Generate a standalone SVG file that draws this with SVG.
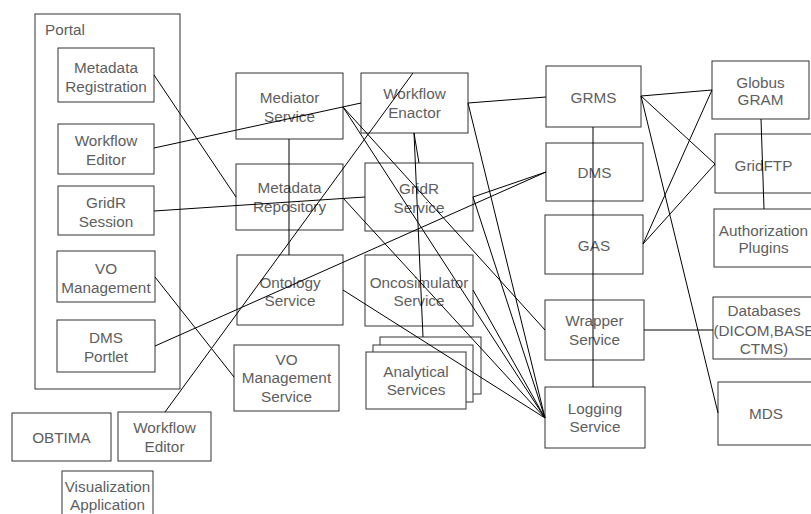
<svg xmlns="http://www.w3.org/2000/svg" width="811" height="514" viewBox="0 0 811 514">
<style>
rect{fill:#fff;stroke:#333;stroke-width:1}
text{font-family:"Liberation Sans",Arial,sans-serif;font-size:15.3px;fill:#5e5e5e;text-anchor:middle}
#portal text{text-anchor:start}
#connectors line{stroke:#000;stroke-width:1}
</style>
<rect x="0" y="0" width="811" height="514" style="stroke:none"/>
<g id="portal"><rect x="35" y="14" width="145" height="375"/><text x="45" y="35">Portal</text></g>
<g id="metadata-registration"><rect x="58" y="48" width="96" height="54"/><text x="106" y="73">Metadata</text><text x="106" y="92">Registration</text></g>
<g id="workflow-editor-portal"><rect x="58" y="124" width="96" height="50"/><text x="106" y="146">Workflow</text><text x="106" y="165">Editor</text></g>
<g id="gridr-session"><rect x="58" y="186" width="96" height="49"/><text x="106" y="208">GridR</text><text x="106" y="227">Session</text></g>
<g id="vo-management"><rect x="57" y="251" width="98" height="51"/><text x="106" y="274">VO</text><text x="106" y="293">Management</text></g>
<g id="dms-portlet"><rect x="57" y="320" width="98" height="52"/><text x="106" y="343">DMS</text><text x="106" y="362">Portlet</text></g>
<g id="obtima"><rect x="12" y="413" width="99" height="48"/><text x="61.5" y="443">OBTIMA</text></g>
<g id="workflow-editor"><rect x="118" y="412" width="93" height="49"/><text x="164.5" y="433">Workflow</text><text x="164.5" y="452">Editor</text></g>
<g id="visualization-application"><rect x="62" y="471" width="91" height="60"/><text x="107.5" y="492">Visualization</text><text x="107.5" y="510">Application</text></g>
<g id="mediator-service"><rect x="236" y="73" width="107" height="66"/><text x="289.5" y="103">Mediator</text><text x="289.5" y="122">Service</text></g>
<g id="workflow-enactor"><rect x="361" y="73" width="107" height="60"/><text x="414.5" y="99">Workflow</text><text x="414.5" y="118">Enactor</text></g>
<g id="metadata-repository"><rect x="236" y="164" width="107" height="66"/><text x="289.5" y="193">Metadata</text><text x="289.5" y="212">Repository</text></g>
<g id="gridr-service"><rect x="365" y="163" width="108" height="68"/><text x="419" y="194">GridR</text><text x="419" y="213">Service</text></g>
<g id="ontology-service"><rect x="237" y="255" width="106" height="70"/><text x="290" y="288">Ontology</text><text x="290" y="306">Service</text></g>
<g id="oncosimulator-service"><rect x="365" y="255" width="108" height="71"/><text x="419" y="288">Oncosimulator</text><text x="419" y="306">Service</text></g>
<g id="vo-management-service"><rect x="234" y="345" width="105" height="66"/><text x="286.5" y="365">VO</text><text x="286.5" y="383">Management</text><text x="286.5" y="402">Service</text></g>
<g id="analytical-services"><rect x="380" y="337" width="101" height="57"/><rect x="373" y="345" width="100" height="57"/><rect x="366" y="352" width="100" height="57"/><text x="416" y="377">Analytical</text><text x="416" y="395">Services</text></g>
<g id="grms"><rect x="546" y="66" width="95" height="61"/><text x="593.5" y="103">GRMS</text></g>
<g id="dms"><rect x="546" y="143" width="97" height="58"/><text x="594.5" y="178">DMS</text></g>
<g id="gas"><rect x="545" y="215" width="98" height="59"/><text x="594" y="251">GAS</text></g>
<g id="wrapper-service"><rect x="545" y="300" width="99" height="60"/><text x="594.5" y="326">Wrapper</text><text x="594.5" y="345">Service</text></g>
<g id="logging-service"><rect x="545" y="387" width="100" height="61"/><text x="595" y="414">Logging</text><text x="595" y="432">Service</text></g>
<g id="globus-gram"><rect x="712" y="61" width="97" height="58"/><text x="760.5" y="88">Globus</text><text x="760.5" y="105">GRAM</text></g>
<g id="gridftp"><rect x="715" y="134" width="97" height="59"/><text x="763.5" y="171">GridFTP</text></g>
<g id="authorization-plugins"><rect x="714" y="209" width="99" height="58"/><text x="763.5" y="236">Authorization</text><text x="763.5" y="253">Plugins</text></g>
<g id="databases"><rect x="713" y="297" width="102" height="62"/><text x="764" y="316">Databases</text><text x="764" y="336">(DICOM,BASE</text><text x="764" y="354">CTMS)</text></g>
<g id="mds"><rect x="718" y="382" width="97" height="63"/><text x="766" y="419">MDS</text></g>
<g id="connectors">
<line x1="154" y1="75" x2="236" y2="197"/>
<line x1="154" y1="148" x2="361" y2="103"/>
<line x1="154" y1="211" x2="365" y2="197"/>
<line x1="155" y1="277" x2="234" y2="377"/>
<line x1="155" y1="346" x2="546" y2="172"/>
<line x1="165" y1="412" x2="413" y2="73"/>
<line x1="289" y1="139" x2="289" y2="255"/>
<line x1="343" y1="107" x2="545" y2="418"/>
<line x1="343" y1="107" x2="545" y2="330"/>
<line x1="343" y1="198" x2="545" y2="418"/>
<line x1="343" y1="290" x2="545" y2="418"/>
<line x1="473" y1="290" x2="545" y2="418"/>
<line x1="468" y1="103" x2="546" y2="97"/>
<line x1="468" y1="103" x2="545" y2="418"/>
<line x1="414" y1="133" x2="419" y2="163"/>
<line x1="414" y1="133" x2="423" y2="337"/>
<line x1="473" y1="197" x2="546" y2="172"/>
<line x1="473" y1="197" x2="545" y2="418"/>
<line x1="593" y1="127" x2="593" y2="387"/>
<line x1="641" y1="96" x2="712" y2="90"/>
<line x1="641" y1="96" x2="715" y2="164"/>
<line x1="641" y1="96" x2="718" y2="413"/>
<line x1="643" y1="244" x2="712" y2="90"/>
<line x1="643" y1="244" x2="715" y2="164"/>
<line x1="761" y1="119" x2="764" y2="209"/>
<line x1="644" y1="330" x2="713" y2="330"/>
</g>
</svg>
